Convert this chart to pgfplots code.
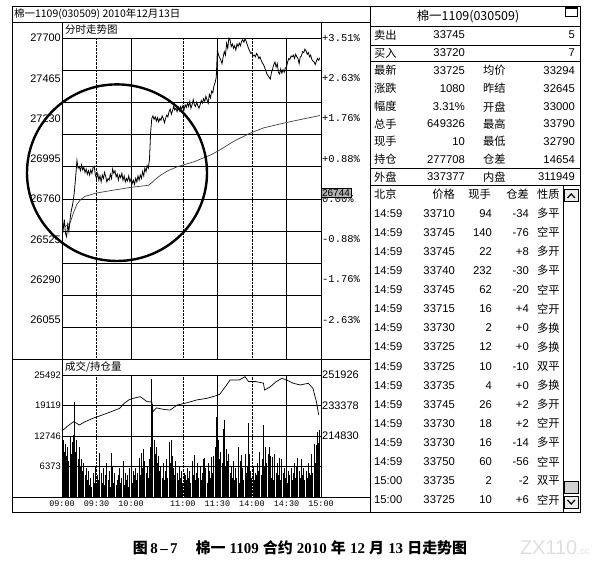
\documentclass[border=0pt]{standalone}
\usepackage{fontspec}
\setmainfont{Liberation Sans}
\newfontfamily\cjk{Noto Sans CJK SC}
\newfontfamily\mono{Liberation Mono}
\newfontfamily\serif{Liberation Serif}
\usepackage{pgfplots}
\usepackage{pgfplotstable}
\pgfplotsset{compat=1.18}
\newcommand\fsz[1]{\fontsize{#1}{#1}\selectfont}
\newcommand\cb[1]{{\cjk\bfseries #1}}
\newcommand\sbf[1]{{\serif\bfseries #1}}

\pgfplotstableread[row sep=\\]{t p\\
0 26620\\ 1 26580\\ 2 26640\\ 3 26560\\ 4 26540\\ 5 26610\\ 6 26570\\ 7 26640\\ 8 26690\\ 9 26720\\
10 26760\\ 11 26820\\ 12 26900\\ 13 26985\\ 14 26940\\ 15 26950\\ 16 26925\\ 17 26960\\ 18 26930\\ 19 26945\\
20 26915\\ 21 26935\\ 22 26905\\ 23 26925\\ 24 26900\\ 25 26930\\ 26 26910\\ 27 26945\\ 28 26950\\ 29 26900\\
30 26880\\ 31 26910\\ 32 26870\\ 33 26895\\ 34 26860\\ 35 26900\\ 36 26880\\ 37 26915\\ 38 26890\\ 39 26860\\
40 26880\\ 41 26870\\ 42 26905\\ 43 26880\\ 44 26935\\ 45 26910\\ 46 26925\\ 47 26890\\ 48 26905\\ 49 26870\\
50 26900\\ 51 26885\\ 52 26910\\ 53 26870\\ 54 26895\\ 55 26860\\ 56 26880\\ 57 26865\\ 58 26895\\ 59 26860\\
60 26880\\ 61 26850\\ 62 26870\\ 63 26845\\ 64 26880\\ 65 26860\\ 66 26895\\ 67 26870\\ 68 26900\\ 69 26880\\
70 26920\\ 71 26895\\ 72 26940\\ 73 26920\\ 74 26955\\ 75 26940\\ 76 26990\\ 77 27150\\ 78 27230\\ 79 27245\\
80 27225\\ 81 27240\\ 82 27215\\ 83 27235\\ 84 27210\\ 85 27230\\ 86 27220\\ 87 27245\\ 88 27230\\ 89 27205\\
90 27230\\ 91 27250\\ 92 27240\\ 93 27270\\ 94 27285\\ 95 27255\\ 96 27275\\ 97 27300\\ 98 27280\\ 99 27290\\
100 27270\\ 101 27295\\ 102 27275\\ 103 27300\\ 104 27285\\ 105 27305\\ 106 27280\\ 107 27310\\ 108 27295\\ 109 27320\\
110 27300\\ 111 27330\\ 112 27290\\ 113 27310\\ 114 27340\\ 115 27310\\ 116 27300\\ 117 27325\\ 118 27305\\ 119 27290\\
120 27310\\ 121 27335\\ 122 27320\\ 123 27345\\ 124 27330\\ 125 27360\\ 126 27340\\ 127 27320\\ 128 27370\\ 129 27350\\
130 27390\\ 131 27380\\ 132 27420\\ 133 27440\\ 134 27470\\ 135 27630\\ 136 27600\\ 137 27585\\ 138 27570\\ 139 27550\\
140 27590\\ 141 27620\\ 142 27600\\ 143 27670\\ 144 27640\\ 145 27700\\ 146 27690\\ 147 27650\\ 148 27665\\ 149 27640\\
150 27655\\ 151 27630\\ 152 27665\\ 153 27650\\ 154 27670\\ 155 27655\\ 156 27680\\ 157 27690\\ 158 27675\\ 159 27695\\
160 27680\\ 161 27660\\ 162 27640\\ 163 27625\\ 164 27610\\ 165 27615\\ 166 27595\\ 167 27600\\ 168 27590\\ 169 27610\\
170 27600\\ 171 27580\\ 172 27590\\ 173 27570\\ 174 27555\\ 175 27545\\ 176 27530\\ 177 27510\\ 178 27490\\ 179 27480\\
180 27470\\ 181 27460\\ 182 27500\\ 183 27520\\ 184 27545\\ 185 27560\\ 186 27530\\ 187 27550\\ 188 27500\\ 189 27490\\
190 27520\\ 191 27495\\ 192 27515\\ 193 27500\\ 194 27525\\ 195 27530\\ 196 27560\\ 197 27580\\ 198 27575\\ 199 27595\\
200 27590\\ 201 27600\\ 202 27580\\ 203 27605\\ 204 27590\\ 205 27580\\ 206 27550\\ 207 27590\\ 208 27595\\ 209 27620\\
210 27615\\ 211 27635\\ 212 27625\\ 213 27605\\ 214 27615\\ 215 27590\\ 216 27600\\ 217 27575\\ 218 27565\\ 219 27560\\
220 27545\\ 221 27565\\ 222 27580\\ 223 27570\\ 224 27585\\
}\pricetab

\pgfplotstableread[row sep=\\]{t a\\
0 26620\\ 3 26600\\ 7 26620\\ 10 26680\\ 13 26730\\ 16 26755\\ 20 26775\\ 30 26795\\ 45 26812\\ 60 26828\\
75 26840\\ 78 26855\\ 82 26880\\ 86 26900\\ 92 26925\\ 100 26948\\ 115 26978\\ 130 27020\\ 137 27046\\ 150 27100\\
163 27143\\ 175 27175\\ 192 27202\\ 210 27228\\ 224 27247\\
}\avgtab

\pgfplotstableread[row sep=\\]{t v\\
0 15300\\ 1 12000\\ 2 9500\\ 3 11000\\ 4 8500\\ 5 10500\\ 6 7500\\ 7 12500\\ 8 9000\\ 9 11500\\
10 13000\\ 11 19800\\ 12 9500\\ 13 12000\\ 14 8000\\ 15 10500\\ 16 6500\\ 17 8000\\ 18 5500\\ 19 7000\\
20 4500\\ 21 6000\\ 22 3500\\ 23 5500\\ 24 2500\\ 25 4000\\ 26 2000\\ 27 5000\\ 28 3000\\ 29 6500\\
30 2500\\ 31 4500\\ 32 3500\\ 33 9100\\ 34 5000\\ 35 3000\\ 36 6000\\ 37 2500\\ 38 4500\\ 39 7000\\
40 3500\\ 41 5500\\ 42 2000\\ 43 9200\\ 44 6500\\ 45 3000\\ 46 5000\\ 47 2500\\ 48 3500\\ 49 4500\\
50 6000\\ 51 3000\\ 52 4000\\ 53 7500\\ 54 2500\\ 55 5000\\ 56 3500\\ 57 4500\\ 58 2000\\ 59 6000\\
60 4000\\ 61 3000\\ 62 5500\\ 63 4500\\ 64 6000\\ 65 3500\\ 66 5000\\ 67 8100\\ 68 4500\\ 69 9200\\
70 6000\\ 71 10000\\ 72 7500\\ 73 5000\\ 74 6500\\ 75 4000\\ 76 8000\\ 77 10500\\ 78 24700\\ 79 19500\\
80 12000\\ 81 9000\\ 82 10500\\ 83 7000\\ 84 8500\\ 85 5500\\ 86 6500\\ 87 4000\\ 88 7000\\ 89 3500\\
90 5500\\ 91 8000\\ 92 4000\\ 93 11500\\ 94 7000\\ 95 11900\\ 96 8500\\ 97 6000\\ 98 4500\\ 99 7500\\
100 5000\\ 101 3500\\ 102 6500\\ 103 4000\\ 104 5500\\ 105 3000\\ 106 5000\\ 107 4500\\ 108 3500\\ 109 6000\\
110 4000\\ 111 5500\\ 112 3000\\ 113 7500\\ 114 4500\\ 115 8750\\ 116 3500\\ 117 5000\\ 118 7000\\ 119 4000\\
120 6500\\ 121 3500\\ 122 5000\\ 123 8000\\ 124 8100\\ 125 6000\\ 126 3000\\ 127 7000\\ 128 5500\\ 129 4000\\
130 8400\\ 131 5000\\ 132 8500\\ 133 10500\\ 134 16700\\ 135 10500\\ 136 12000\\ 137 8000\\ 138 9500\\ 139 7000\\
140 14300\\ 141 16000\\ 142 6500\\ 143 10000\\ 144 7500\\ 145 9000\\ 146 5000\\ 147 6500\\ 148 4000\\ 149 7500\\
150 3500\\ 151 6000\\ 152 4000\\ 153 10500\\ 154 3000\\ 155 7500\\ 156 8750\\ 157 6000\\ 158 3500\\ 159 9000\\
160 5000\\ 161 6500\\ 162 15500\\ 163 9000\\ 164 5500\\ 165 4000\\ 166 6500\\ 167 3500\\ 168 5000\\ 169 4500\\
170 7000\\ 171 5500\\ 172 9500\\ 173 4500\\ 174 8000\\ 175 15000\\ 176 6500\\ 177 10500\\ 178 7000\\ 179 9000\\
180 10500\\ 181 8500\\ 182 4000\\ 183 8400\\ 184 3500\\ 185 9000\\ 186 5000\\ 187 7000\\ 188 4500\\ 189 8100\\
190 3500\\ 191 8000\\ 192 5000\\ 193 6000\\ 194 4000\\ 195 7500\\ 196 3000\\ 197 5500\\ 198 4500\\ 199 6000\\
200 3500\\ 201 5000\\ 202 7000\\ 203 4000\\ 204 6500\\ 205 8100\\ 206 5500\\ 207 4000\\ 208 8000\\ 209 4500\\
210 6000\\ 211 3500\\ 212 5500\\ 213 4000\\ 214 7000\\ 215 5000\\ 216 4500\\ 217 9000\\ 218 5000\\ 219 11000\\
220 7000\\ 221 10800\\ 222 13600\\ 223 11250\\ 224 14000\\
}\voltab

\pgfplotstableread[row sep=\\]{t oi\\
1 218600\\ 5 221000\\ 10 223600\\ 13 222600\\ 15 221600\\ 20 223600\\ 27 225700\\ 39 228700\\ 50 231700\\ 54 234700\\
58 236800\\ 62 237800\\ 68 238800\\ 74 235700\\ 78 235700\\ 79 229700\\ 82 232000\\ 89 231000\\ 94 230700\\ 100 233700\\
108 235000\\ 117 236800\\ 126 237800\\ 132 239000\\ 137 240200\\ 143 245900\\ 146 248900\\ 154 248900\\ 159 250900\\ 162 248000\\
168 248000\\ 175 247000\\ 176 242800\\ 181 244800\\ 186 247900\\ 191 249900\\ 195 248900\\ 201 246900\\ 207 245900\\ 214 246900\\
218 243800\\ 221 235700\\ 223 227700\\
}\oitab

\begin{document}
\begin{tikzpicture}
\useasboundingbox (0,0) rectangle (612bp,564bp);
\pgfplotsset{panel/.style={scale only axis, anchor=south west, xmin=0, xmax=225,
  major tick length=0, minor tick length=0, scaled x ticks=false, scaled y ticks=false}}

% ---------- price panel ----------
\begin{axis}[panel, at={(62bp,205bp)}, width=259bp, height=321bp,
  ymin=25825.7, ymax=27700, axis line style={line width=0.8bp},
  xtick={60,135,195}, minor xtick={30,105,165},
  ytick={26008,26196,26384,26572,26760,26948,27136,27324,27512},
  xticklabels={}, yticklabels={}, grid=both,
  major grid style={black, line width=0.6bp},
  minor grid style={black, densely dotted, line width=0.6bp}]
  \addplot[black!75, line width=0.7bp] table[x=t, y=a] {\avgtab};
  \addplot[black, line width=0.8bp] table[x=t, y=p] {\pricetab};
\end{axis}
\begin{axis}[panel, at={(62bp,205bp)}, width=259bp, height=321bp,
  ymin=25825.7, ymax=27700, axis line style={draw=none}, xtick=\empty,
  ytick={26055,26290,26525,26760,26995,27230,27465,27700},
  yticklabels={26055,26290,26525,26760,26995,27230,27465,27700},
  yticklabel style={font=\fsz{11}, inner sep=1bp}]
\end{axis}
\begin{axis}[panel, at={(62bp,205bp)}, width=259bp, height=321bp,
  ymin=25825.7, ymax=27700, axis line style={draw=none}, xtick=\empty,
  yticklabel pos=right,
  ytick={26055,26290,26525,26760,26995,27230,27465,27700},
  yticklabels={-2.63\%,-1.76\%,-0.88\%,0.00\%,+0.88\%,+1.76\%,+2.63\%,+3.51\%},
  yticklabel style={font=\mono\fsz{10.5}, inner sep=1bp}]
\end{axis}

% ---------- volume panel ----------
\begin{axis}[panel, at={(62bp,67bp)}, width=259bp, height=122bp,
  ymin=0, ymax=25492, axis line style={line width=0.8bp},
  xtick={60,135,195}, minor xtick={30,105,165},
  ytick={6373,12746,19119},
  xticklabels={}, yticklabels={}, grid=both,
  major grid style={black, line width=0.6bp},
  minor grid style={black, densely dotted, line width=0.6bp}]
  \addplot[ycomb, black, line width=1bp, mark=none] table[x=t, y=v] {\voltab};
\end{axis}
\begin{axis}[panel, at={(62bp,67bp)}, width=259bp, height=122bp,
  ymin=0, ymax=25492, axis line style={draw=none},
  xtick={0,30,60,105,135,165,195,225},
  xticklabels={09:00,09:30,10:00,11:00,11:30,14:00,14:30,15:00},
  xticklabel style={font=\mono\fsz{8.5}, inner sep=1bp, yshift=-3bp},
  ytick={6373,12746,19119,25492},
  yticklabels={6373,12746,19119,25492},
  yticklabel style={font=\fsz{9.5}, inner sep=1bp}]
\end{axis}
\begin{axis}[panel, at={(62bp,67bp)}, width=259bp, height=122bp,
  ymin=177982, ymax=251926, axis line style={draw=none}, xtick=\empty,
  yticklabel pos=right,
  ytick={214830,233378,251926},
  yticklabels={214830,233378,251926},
  yticklabel style={font=\fsz{11}, inner sep=1bp}]
  \addplot[black, line width=0.7bp] table[x=t, y=oi] {\oitab};
\end{axis}

% ---------- frames, annotation and quote table (pixel coordinates) ----------
\begin{scope}[x=1bp, y=-1bp, shift={(0bp,564bp)}]
  % left panel frame
  \draw[line width=0.8bp] (12,6) rectangle (370,512);
  \draw[line width=0.7bp] (12,22) -- (370,22);
  \draw[line width=0.7bp] (62,22) -- (62,497) (321,22) -- (321,497);
  \draw[line width=0.7bp] (12,359) -- (370,359) (12,497) -- (370,497);
  \node[anchor=west, inner sep=0, font=\cjk\fsz{10.5}] at (14,14) {棉一1109(030509) 2010年12月13日};
  \node[anchor=west, inner sep=0, font=\cjk\fsz{10.5}] at (65,30) {分时走势图};
  \node[anchor=west, inner sep=0, font=\cjk\fsz{10.5}] at (65,367) {成交/持仓量};
  % last price box
  \node[fill=gray!60, draw=black, line width=0.5bp, inner sep=1bp, font=\fsz{10}] at (336,193) {26744};
  % hand-drawn circle
  \draw[line width=2.4bp] (117,172.7) ellipse [x radius=90, y radius=88.3];

  % right panel
  \draw[line width=0.8bp] (370,6) rectangle (580,512);
  \draw[line width=0.7bp] (370,26.7) -- (580,26.7) (370,45) -- (580,45) (370,61) -- (580,61)
        (370,168) -- (580,168) (370,185) -- (580,185);
  \draw[line width=0.6bp] (565,7) rectangle (577,16);
  \fill (565,7) rectangle (577,9.5);
  \node[font=\cjk\fsz{12.5}] at (468,16) {棉一1109(030509)};
  % scrollbar
  \draw[line width=0.5bp] (563,185) -- (563,512);
  \draw[line width=0.5bp, fill=gray!15] (564,189) rectangle (578.5,201);
  \draw[line width=1.2bp] (567.5,198) -- (571.2,194) -- (575,198);
  \draw[line width=0.5bp, fill=gray!35] (564,481) rectangle (578.5,493);
  \draw[line width=0.5bp, fill=gray!15] (564,496) rectangle (578.5,508);
  \draw[line width=1.2bp] (567.5,500) -- (571.2,504) -- (575,500);

  \begin{scope}[every node/.style={inner sep=0, font=\fsz{11.3}}]
  \node[anchor=west, font=\cjk\fsz{11.3}] at (374,35) {卖出};
  \node[anchor=east] at (465,35) {33745};
  \node[anchor=east] at (575,35) {5};
  \node[anchor=west, font=\cjk\fsz{11.3}] at (374,53) {买入};
  \node[anchor=east] at (465,53) {33720};
  \node[anchor=east] at (575,53) {7};
  \foreach \y/\la/\va/\lb/\vb in {70.7/最新/33725/均价/33294, 88.3/涨跌/1080/昨结/32645,
      106.7/幅度/3.31\%/开盘/33000, 124/总手/649326/最高/33790, 141.7/现手/10/最低/32790,
      159.3/持仓/277708/仓差/14654, 176.7/外盘/337377/内盘/311949}{
    \node[anchor=west, font=\cjk\fsz{11.3}] at (374,\y) {\la};
    \node[anchor=east] at (465,\y) {\va};
    \node[anchor=west, font=\cjk\fsz{11.3}] at (483,\y) {\lb};
    \node[anchor=east] at (575,\y) {\vb};
  }
  \node[anchor=west, font=\cjk\fsz{11.3}] at (374,194.5) {北京};
  \node[anchor=east, font=\cjk\fsz{11.3}] at (455,194.5) {价格};
  \node[anchor=east, font=\cjk\fsz{11.3}] at (491,194.5) {现手};
  \node[anchor=east, font=\cjk\fsz{11.3}] at (529,194.5) {仓差};
  \node[anchor=west, font=\cjk\fsz{11.3}] at (537,194.5) {性质};
  \foreach \i/\tm/\pr/\vo/\df/\xz in {0/14:59/33710/94/-34/多平, 1/14:59/33745/140/-76/空平,
      2/14:59/33745/22/+8/多开, 3/14:59/33740/232/-30/多平, 4/14:59/33745/62/-20/空平,
      5/14:59/33715/16/+4/空开, 6/14:59/33730/2/+0/多换, 7/14:59/33725/12/+0/多换,
      8/14:59/33725/10/-10/双平, 9/14:59/33735/4/+0/多换, 10/14:59/33745/26/+2/多开,
      11/14:59/33730/18/+2/空开, 12/14:59/33730/16/-14/多平, 13/14:59/33750/60/-56/空平,
      14/15:00/33735/2/-2/双平, 15/15:00/33725/10/+6/空开}{
    \pgfmathsetmacro\yy{213.3+19.11*\i}
    \node[anchor=west] at (374,\yy) {\tm};
    \node[anchor=east] at (455,\yy) {\pr};
    \node[anchor=east] at (492,\yy) {\vo};
    \node[anchor=east] at (529,\yy) {\df};
    \node[anchor=west, font=\cjk\fsz{11.3}] at (537,\yy) {\xz};
  }
  \end{scope}

  % caption
  \node[inner sep=0, font=\fsz{15}] at (300,548)
    {\cb{图}\,\sbf{8\,–\,7}\hspace{1.2em}\cb{棉一} \sbf{1109} \cb{合约} \sbf{2010} \cb{年} \sbf{12} \cb{月} \sbf{13} \cb{日走势图}};
  \node[inner sep=0, text=gray!25, font=\fsz{20}] at (555,548) {ZX110{\fsz{10}.cc}};
\end{scope}
\end{tikzpicture}
\end{document}
